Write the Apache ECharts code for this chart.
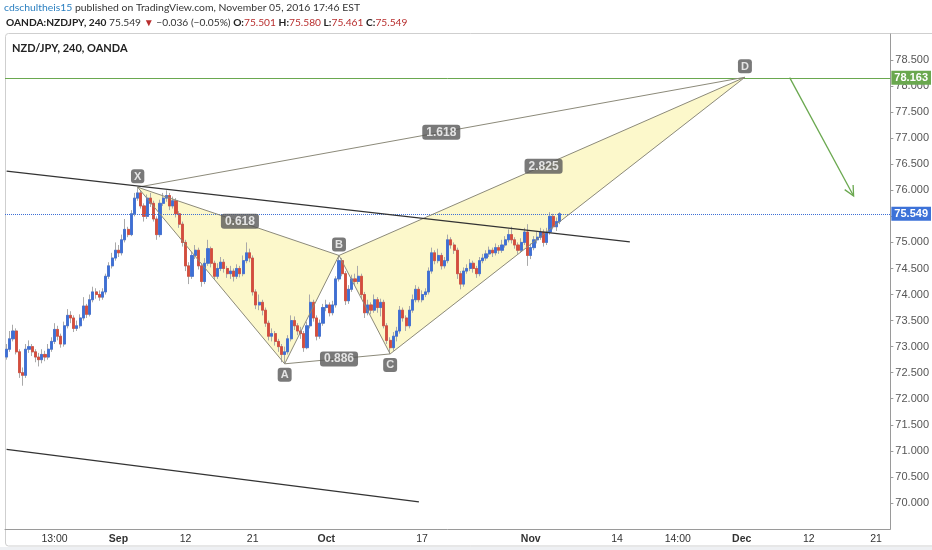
<!DOCTYPE html>
<html>
<head>
<meta charset="utf-8">
<script src="https://cdn.jsdelivr.net/npm/echarts@6/dist/echarts.min.js"></script>
<style>
  html, body { margin: 0; padding: 0; background: #fff; }
  #chart { width: 932px; height: 550px; }
</style>
</head>
<body>
<div id="chart"></div>
<script>
// NZD/JPY 240 (OANDA); one candle here stands for ~2 bars
const firstOpen = 72.80
const closes = [
  72.95, 73.15, 73.30, 72.90, 72.50, 72.45, 72.95, 73.00, 72.90, 72.80,
  72.75, 72.85, 72.80, 72.95, 73.10, 73.33, 73.20, 73.05, 73.40, 73.60,
  73.55, 73.35, 73.40, 73.55, 73.78, 73.62, 73.90, 74.05, 74.00, 73.95,
  74.05, 74.35, 74.55, 74.70, 74.85, 74.80, 75.05, 75.25, 75.15, 75.55,
  75.85, 75.95, 75.70, 75.50, 75.85, 75.75, 75.45, 75.15, 75.75, 75.85,
  75.90, 75.70, 75.80, 75.55, 75.35, 75.00, 74.55, 74.35, 74.75, 74.85,
  74.55, 74.25, 74.60, 74.88, 74.60, 74.35, 74.50, 74.62, 74.50, 74.40,
  74.45, 74.35, 74.50, 74.40, 74.65, 74.80, 74.70, 74.05, 73.80, 73.85,
  73.70, 73.45, 73.20, 73.25, 73.10, 73.00, 72.85, 72.90, 73.15, 73.50,
  73.40, 73.30, 73.25, 72.98, 73.40, 73.85, 73.55, 73.20, 73.45, 73.75,
  73.80, 73.65, 73.80, 74.30, 74.65, 74.40, 73.88, 74.10, 74.30, 74.25,
  74.35, 74.00, 73.65, 73.80, 73.70, 73.90, 73.75, 73.85, 73.40, 73.12,
  72.98, 73.20, 73.30, 73.70, 73.55, 73.40, 73.70, 73.90, 74.10, 73.90,
  74.00, 74.05, 74.45, 74.80, 74.65, 74.75, 74.55, 74.65, 75.05, 74.95,
  74.85, 74.40, 74.20, 74.45, 74.50, 74.60, 74.50, 74.40, 74.65, 74.70,
  74.78, 74.85, 74.80, 74.90, 74.85, 74.95, 75.05, 75.15, 75.05, 74.95,
  74.85, 75.00, 75.20, 74.75, 74.90, 75.05, 75.10, 75.20, 75.00, 75.20,
  75.50, 75.30, 75.40, 75.55
]
const lows = [
  72.75, 72.90, 73.10, 72.85, 72.40, 72.25, 72.40, 72.88, 72.82, 72.70,
  72.62, 72.68, 72.72, 72.75, 72.90, 73.05, 73.12, 72.98, 73.00, 73.35,
  73.45, 73.28, 73.30, 73.35, 73.50, 73.55, 73.58, 73.85, 73.92, 73.88,
  73.90, 74.00, 74.30, 74.50, 74.65, 74.72, 74.75, 75.00, 75.10, 75.12,
  75.50, 75.80, 75.65, 75.40, 75.45, 75.68, 75.40, 75.05, 75.10, 75.70,
  75.78, 75.62, 75.65, 75.48, 75.28, 74.92, 74.45, 74.20, 74.30, 74.68,
  74.48, 74.15, 74.20, 74.55, 74.52, 74.28, 74.30, 74.45, 74.42, 74.32,
  74.30, 74.25, 74.30, 74.33, 74.35, 74.60, 74.62, 73.98, 73.72, 73.70,
  73.60, 73.38, 73.12, 73.10, 73.02, 72.90, 72.70, 72.67, 72.85, 73.10,
  73.32, 73.22, 73.15, 72.90, 72.95, 73.35, 73.48, 73.12, 73.15, 73.40,
  73.68, 73.58, 73.60, 73.75, 74.25, 74.35, 73.80, 73.82, 74.05, 74.18,
  74.20, 73.92, 73.55, 73.60, 73.62, 73.65, 73.65, 73.58, 73.35, 73.05,
  72.86, 72.92, 73.10, 73.25, 73.48, 73.30, 73.35, 73.65, 73.85, 73.85,
  73.85, 73.95, 74.00, 74.40, 74.58, 74.60, 74.48, 74.50, 74.60, 74.88,
  74.78, 74.30, 74.10, 74.15, 74.40, 74.45, 74.42, 74.32, 74.35, 74.60,
  74.65, 74.72, 74.72, 74.75, 74.78, 74.80, 74.90, 75.00, 74.98, 74.88,
  74.78, 74.80, 74.95, 74.55, 74.68, 74.85, 74.98, 75.05, 74.92, 74.95,
  75.15, 75.25, 75.22, 75.35
]
const highs = [
  73.05, 73.30, 73.42, 73.35, 72.95, 72.60, 73.05, 73.12, 73.05, 72.95,
  72.88, 72.95, 72.92, 73.05, 73.18, 73.45, 73.40, 73.25, 73.48, 73.72,
  73.68, 73.60, 73.50, 73.62, 73.95, 73.82, 74.00, 74.15, 74.12, 74.08,
  74.12, 74.40, 74.62, 74.80, 75.00, 74.95, 75.15, 75.45, 75.30, 75.62,
  75.95, 76.06, 76.00, 75.75, 75.92, 75.95, 75.80, 75.50, 75.82, 75.95,
  76.00, 75.95, 75.88, 75.85, 75.60, 75.40, 75.05, 74.62, 74.82, 74.95,
  74.90, 74.60, 74.70, 75.05, 74.92, 74.65, 74.60, 74.72, 74.68, 74.55,
  74.55, 74.50, 74.58, 74.55, 74.75, 75.00, 74.88, 74.75, 74.10, 74.00,
  73.90, 73.75, 73.50, 73.35, 73.30, 73.15, 73.05, 73.00, 73.22, 73.60,
  73.58, 73.45, 73.38, 73.30, 73.48, 74.00, 73.90, 73.60, 73.52, 73.82,
  73.90, 73.85, 73.88, 74.35, 74.75, 74.70, 74.45, 74.18, 74.38, 74.40,
  74.55, 74.40, 74.05, 73.90, 73.85, 74.00, 73.95, 73.92, 73.90, 73.45,
  73.18, 73.28, 73.38, 73.78, 73.75, 73.60, 73.78, 74.00, 74.18, 74.15,
  74.08, 74.12, 74.52, 74.90, 74.85, 74.88, 74.80, 74.72, 75.15, 75.10,
  75.00, 74.90, 74.45, 74.52, 74.58, 74.68, 74.65, 74.55, 74.72, 74.78,
  74.85, 74.92, 74.90, 74.98, 74.95, 75.05, 75.12, 75.25, 75.30, 75.10,
  75.00, 75.08, 75.28, 75.35, 74.98, 75.12, 75.20, 75.28, 75.25, 75.28,
  75.58, 75.55, 75.48, 75.58
]

// x slots (candles + empty space to the right), tick labels
const slotCount = 277
const tickIdx = [15, 35, 56, 77, 100, 130, 164, 191, 210, 230, 251, 272]
const tickText = ['13:00', 'Sep', '12', '21', 'Oct', '17', 'Nov', '14', '14:00', 'Dec', '12', '21']
const monthNames = ['Sep', 'Oct', 'Nov', 'Dec']

// XABCD pattern points [slot, price]
const pX = [41, 76.06]
const pA = [87, 72.67]
const pB = [104, 74.75]
const pC = [120, 72.86]
const pD = [231, 78.17]
const ratios = [['X', 'B', '0.618'], ['A', 'C', '0.886'], ['X', 'D', '1.618'], ['B', 'D', '2.825']]

// drawn lines
const trendUpper = [[-0.5, 76.37], [195, 75.01]]
const trendLower = [[-0.5, 71.03], [129, 70.02]]
const arrowLine = [245, 78.163, 265, 75.89]
const lastPrice = 75.549
const targetPrice = 78.163

const upColor = '#3d6fd6'
const downColor = '#d64c3c'
const wickColor = '#a9a9a9'
const patternColor = '#8c8a7a'
const labelBg = '#585858'
const greenColor = '#6aa84f'

const cats = Array.from({ length: slotCount }, (_, i) => String(i))
const tickMap = {}
tickIdx.forEach((k, j) => { tickMap[k] = tickText[j] })

const opens = closes.map((c, i) => (i === 0 ? firstOpen : closes[i - 1]))
const candles = closes.map((c, i) => [opens[i], c, lows[i], highs[i]])
const bodies = closes.map((c, i) => [opens[i], c, Math.min(opens[i], c), Math.max(opens[i], c)])

const P = { X: pX, A: pA, B: pB, C: pC, D: pD }
const segs = [['X', 'A'], ['A', 'B'], ['X', 'B'], ['B', 'C'], ['C', 'D'], ['B', 'D'], ['A', 'C'], ['X', 'D']]

const boxLabel = {
  show: true,
  color: '#fff',
  backgroundColor: labelBg,
  borderRadius: 3,
  fontFamily: 'Liberation Sans',
  fontWeight: 'bold',
  fontSize: 12
}

const myChart = echarts.init(document.getElementById('chart'))

const option = {
  animation: false,
  backgroundColor: '#fff',
  grid: { left: 5, right: 41, top: 34, bottom: 21 },
  xAxis: {
    type: 'category',
    data: cats,
    boundaryGap: true,
    axisLine: { lineStyle: { color: '#9a9a9a' } },
    axisTick: {
      alignWithLabel: true,
      length: 3,
      interval: (i) => tickMap[i] !== undefined,
      lineStyle: { color: '#9a9a9a' }
    },
    axisLabel: {
      interval: (i) => tickMap[i] !== undefined,
      formatter: (v, i) => {
        const t = tickMap[i] || ''
        return monthNames.includes(t) ? '{m|' + t + '}' : t
      },
      color: '#333',
      fontSize: 10.5,
      fontFamily: 'Liberation Sans',
      margin: 5,
      rich: { m: { fontWeight: 'bold', fontSize: 10.5, color: '#333', fontFamily: 'Liberation Sans' } }
    },
    splitLine: { show: false }
  },
  yAxis: {
    type: 'value',
    position: 'right',
    min: 69.5,
    max: 79,
    interval: 0.5,
    axisLine: { show: true, lineStyle: { color: '#9a9a9a' } },
    axisTick: { show: true, length: 3, lineStyle: { color: '#9a9a9a' } },
    axisLabel: {
      color: '#555',
      fontSize: 11,
      fontFamily: 'Liberation Sans',
      margin: 5,
      showMinLabel: false,
      showMaxLabel: false,
      formatter: (v) => v.toFixed(3)
    },
    splitLine: { show: false }
  },
  graphic: [
    {
      type: 'rect', z: -10, silent: true,
      shape: { x: 5.5, y: 33.5, width: 940, height: 512.5, r: 3 },
      style: { fill: '#fff', stroke: '#cfcfcf', lineWidth: 1 }
    },
    {
      type: 'rect', z: -10, silent: true,
      shape: { x: 0, y: 547, width: 932, height: 3 },
      style: { fill: '#eef0f3' }
    },
    {
      type: 'text', left: 4, top: 3, silent: true,
      style: {
        text: '{u|cdschultheis15} {t|published on TradingView.com, November 05, 2016 17:46 EST}',
        font: '10.4px Lato',
        rich: {
          u: { fill: '#2a7fc0', fontSize: 10.4, fontFamily: 'Lato' },
          t: { fill: '#333', fontSize: 10.4, fontFamily: 'Lato' }
        }
      }
    },
    {
      type: 'text', left: 6, top: 18, silent: true,
      style: {
        text: '{b|OANDA:NZDJPY, 240} {n|75.549} {r|▼} {n|−0.036 (−0.05%)} {b|O:}{r|75.501} {b|H:}{r|75.580} {b|L:}{r|75.461} {b|C:}{r|75.549}',
        font: '10.2px Lato',
        rich: {
          b: { fill: '#222', fontWeight: 'bold', fontSize: 10.2, fontFamily: 'Lato' },
          n: { fill: '#333', fontSize: 10.2, fontFamily: 'Lato' },
          r: { fill: '#b82e2e', fontSize: 10.2, fontFamily: 'Lato' }
        }
      }
    },
    {
      type: 'text', left: 12, top: 43, silent: true,
      style: { text: 'NZD/JPY, 240, OANDA', fill: '#222', font: 'bold 11px Lato' }
    }
  ],
  series: [
    {
      name: 'fill',
      type: 'custom',
      silent: true,
      z: 1,
      renderItem: (params, api) => {
        const pts = [0, 1, 2].map((k) => api.coord([api.value(k * 2), api.value(k * 2 + 1)]))
        return { type: 'polygon', shape: { points: pts }, style: { fill: '#fcf8cb' } }
      },
      encode: { x: [0, 2, 4], y: [1, 3, 5] },
      data: [[...pX, ...pA, ...pB], [...pB, ...pC, ...pD]]
    },
    {
      name: 'wicks',
      type: 'candlestick',
      z: 3,
      silent: true,
      barWidth: 2.6,
      itemStyle: { color: wickColor, color0: wickColor, borderColor: wickColor, borderColor0: wickColor, borderWidth: 1 },
      data: candles
    },
    {
      name: 'bodies',
      type: 'candlestick',
      z: 4,
      silent: true,
      barWidth: 2.6,
      itemStyle: { color: upColor, color0: downColor, borderColor: upColor, borderColor0: downColor, borderWidth: 0.8 },
      data: bodies,
      markLine: {
        silent: true,
        symbol: ['none', 'none'],
        data: [
          {
            yAxis: lastPrice,
            lineStyle: { color: '#3d6fd6', type: 'dotted', width: 1 },
            label: {
              show: true, position: 'end', distance: 1, formatter: lastPrice.toFixed(3),
              color: '#fff', backgroundColor: '#3d72d8', padding: [2, 3, 1, 3],
              fontSize: 11, fontFamily: 'Liberation Sans', fontWeight: 'bold'
            }
          },
          {
            yAxis: targetPrice,
            lineStyle: { color: greenColor, type: 'solid', width: 1 },
            label: {
              show: true, position: 'end', distance: 1, formatter: targetPrice.toFixed(3),
              color: '#fff', backgroundColor: greenColor, padding: [2, 3, 1, 3],
              fontSize: 11, fontFamily: 'Liberation Sans', fontWeight: 'bold'
            }
          }
        ]
      }
    },
    ...segs.map(([a, b]) => ({
      type: 'line',
      z: 5,
      silent: true,
      symbol: 'none',
      lineStyle: { color: patternColor, width: 1 },
      data: [P[a], P[b]]
    })),
    {
      type: 'line', z: 5, silent: true, symbol: 'none',
      lineStyle: { color: '#333', width: 1.3 },
      data: trendUpper
    },
    {
      type: 'line', z: 5, silent: true, symbol: 'none',
      lineStyle: { color: '#333', width: 1.3 },
      data: trendLower
    },
    {
      name: 'arrow',
      type: 'custom',
      silent: true,
      z: 5,
      encode: { x: [0, 2], y: [1, 3] },
      renderItem: (params, api) => {
        const p1 = api.coord([api.value(0), api.value(1)])
        const p2 = api.coord([api.value(2), api.value(3)])
        const ang = Math.atan2(p2[1] - p1[1], p2[0] - p1[0])
        const len = 11
        const h1 = [p2[0] - len * Math.cos(ang - 0.45), p2[1] - len * Math.sin(ang - 0.45)]
        const h2 = [p2[0] - len * Math.cos(ang + 0.45), p2[1] - len * Math.sin(ang + 0.45)]
        return {
          type: 'group',
          children: [
            { type: 'line', shape: { x1: p1[0], y1: p1[1], x2: p2[0], y2: p2[1] }, style: { stroke: greenColor, lineWidth: 1.3 } },
            { type: 'polyline', shape: { points: [h1, p2, h2] }, style: { stroke: greenColor, lineWidth: 1.3, fill: null } }
          ]
        }
      },
      data: [arrowLine]
    },
    {
      type: 'scatter',
      z: 6,
      silent: true,
      symbolSize: 0,
      label: { ...boxLabel, position: 'inside', padding: [2, 4, 1, 4] },
      data: ratios.map(([a, b, t]) => ({
        value: [(P[a][0] + P[b][0]) / 2, (P[a][1] + P[b][1]) / 2],
        label: { formatter: t }
      }))
    },
    {
      type: 'scatter',
      z: 6,
      silent: true,
      symbolSize: 0,
      label: { ...boxLabel, fontSize: 11, padding: [2, 3, 1, 3], distance: 4 },
      data: [
        { value: pX, label: { formatter: 'X', position: 'top' } },
        { value: pA, label: { formatter: 'A', position: 'bottom' } },
        { value: pB, label: { formatter: 'B', position: 'top' } },
        { value: pC, label: { formatter: 'C', position: 'bottom' } },
        { value: pD, label: { formatter: 'D', position: 'top' } }
      ]
    }
  ]
}

myChart.setOption(option)
</script>
</body>
</html>
